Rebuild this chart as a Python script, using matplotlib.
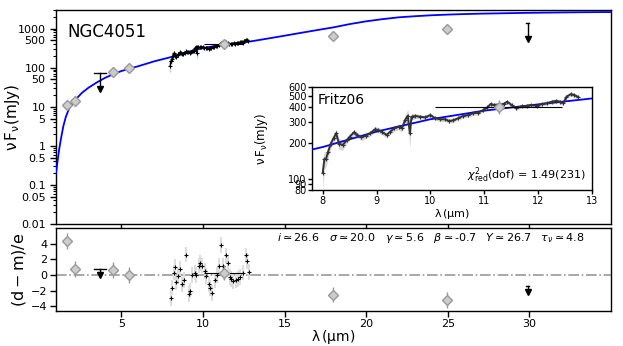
import matplotlib
matplotlib.use("Agg")
import matplotlib.pyplot as plt
from matplotlib.ticker import FixedLocator, FixedFormatter, NullFormatter, NullLocator

# model SED (blue curve)
model_wave = [1.0, 1.1, 1.2, 1.3, 1.45, 1.6, 1.8, 2.0, 2.3, 2.6, 3.0, 3.5, 4.0, 4.5,
              5.0, 5.5, 6.0, 7.0, 8.0, 9.0, 10.0, 11.0, 12.0, 13.0, 14.0, 15.0, 16.0,
              17.0, 18.0, 19.0, 20.0, 21.0, 22.0, 23.0, 24.0, 25.0, 26.0, 27.0, 28.0,
              29.0, 30.0, 31.0, 32.0, 33.0, 34.0, 35.0]
model_flux = [0.2, 0.42, 0.85, 1.5, 3.2, 5.5, 9.0, 12.0, 17, 23, 31, 42, 55, 68,
              82, 95, 108, 145, 185, 250, 318, 376, 425, 477, 560, 660, 780,
              920, 1080, 1310, 1540, 1750, 1950, 2080, 2200, 2290, 2360, 2420, 2460,
              2500, 2540, 2570, 2600, 2625, 2645, 2660]

# photometry (diamonds)
phot_wave = [1.65, 2.16, 4.47, 5.45, 11.27, 17.97, 24.97]
phot_flux = [11.3, 13.7, 77, 97, 405, 660, 1000]
phot_err = [1.0, 1.3, 9, 12, 55, 60, 110]
phot_xerr = [0, 0, 0, 0, 1.18, 0, 0]
phot_res = [4.3, 0.8, 0.6, 0.0, 0.3, -2.5, -3.2]
phot_res_err = [1.0, 1.0, 1.0, 1.0, 1.0, 1.0, 1.0]

# upper limits
ul_wave = [3.7, 29.9]
ul_flux = [74, 1400]
ul_res = [0.8, -1.4]
ul_cap = [0.35, 0.1]

# Fritz06 spectrum
spec_wave = [8.00, 8.03, 8.06, 8.10, 8.15, 8.20, 8.25, 8.30, 8.37, 8.45, 8.50, 8.58,
             8.64, 8.72, 8.80, 8.88, 8.97, 9.03, 9.11, 9.19, 9.25, 9.33, 9.41, 9.47,
             9.53, 9.58, 9.62, 9.65, 9.72, 9.81, 9.90, 10.00, 10.09, 10.18, 10.27,
             10.35, 10.43, 10.52, 10.61, 10.70, 10.80, 10.89, 10.98, 11.06, 11.12,
             11.18, 11.36, 11.43, 11.51, 11.60, 11.70, 11.79, 11.88, 11.98, 12.07,
             12.16, 12.26, 12.34, 12.41, 12.47, 12.53, 12.61, 12.67, 12.75]
spec_flux = [112, 146, 146, 169, 198, 219, 241, 198, 192, 212, 226, 246,
             234, 223, 231, 241, 261, 258, 246, 234, 249, 266, 275, 266,
             313, 340, 241, 334, 339, 334, 330, 345, 324, 318, 318,
             307, 312, 325, 339, 345, 358, 362, 380, 401, 428,
             420, 428, 448, 420, 393, 411, 411, 420, 411, 428,
             434, 448, 456, 448, 434, 493, 519, 511, 490]
spec_err = [35, 25, 20, 20, 18, 20, 20, 22, 18, 14, 13, 13,
            13, 13, 13, 13, 14, 14, 13, 13, 13, 14, 16, 18,
            30, 45, 60, 25, 16, 14, 13, 14, 13, 13, 13,
            13, 13, 13, 14, 14, 14, 14, 15, 16, 18,
            18, 16, 16, 15, 15, 15, 15, 15, 15, 15,
            15, 16, 16, 16, 16, 18, 20, 20, 20]

# residuals of the spectrum
res_wave = [8.06, 8.12, 8.20, 8.26, 8.37, 8.47, 8.61, 8.73, 8.81, 8.98, 9.14, 9.22,
            9.35, 9.49, 9.59, 9.75, 9.83, 9.96, 10.10, 10.20, 10.37, 10.45, 10.57,
            10.71, 10.86, 10.98, 11.12, 11.22, 11.32, 11.43, 11.53, 11.63, 11.73,
            11.87, 12.00, 12.14, 12.28, 12.45, 12.61, 12.69, 12.81]
res_val = [-2.9, -1.6, 0.3, 1.0, -0.95, -0.1, 0.8, -1.2, -0.65, 2.6, -2.4, -2.0,
           0.0, 0.3, 0.0, 1.2, 1.5, 1.2, 0.5, -0.1, -1.2, -1.7, -2.3,
           -0.7, 0.0, 1.2, 3.8, 1.2, 0.3, 2.5, 1.5, -0.3, -0.5,
           -0.8, -0.7, -0.5, -0.3, 0.3, 2.5, 1.8, 0.4]
res_err = [1.0] * len(res_wave)

ytick_vals = [0.01, 0.05, 0.1, 0.5, 1, 5, 10, 50, 100, 500, 1000]
ytick_labels = ["0.01", "0.05", "0.1", "0.5", "1", "5", "10", "50", "100", "500", "1000"]
xtick_vals = [5, 10, 15, 20, 25, 30]
inset_yticks = [80, 90, 100, 200, 300, 400, 500, 600]
inset_xticks = [8, 9, 10, 11, 12, 13]
res_yticks = [-4, -2, 0, 2, 4]

plt.rcParams['font.family'] = ['DejaVu Sans']
plt.rcParams['axes.linewidth'] = 1.0

fig = plt.figure(figsize=(6.23, 3.46), dpi=100)
ax = fig.add_axes([0.0899, 0.3526, 0.891, 0.6185])
axr = fig.add_axes([0.0899, 0.1012, 0.891, 0.2398])
axi = fig.add_axes([0.5008, 0.4509, 0.449, 0.2985])

dia = dict(fmt='D', mfc='#cccccc', mec='#999999', ecolor='#999999', ms=5,
           elinewidth=1.0, zorder=5)


def draw_upper_limits(a, ys, factor, log=True):
    for w, y, c in zip(ul_wave, ys, ul_cap):
        tip = y / factor if log else y - factor
        a.plot([w, w], [y, tip], color='black', lw=1.0, zorder=4)
        a.plot([w - c, w + c], [y, y], color='black', lw=1.0, zorder=4)
        a.plot(w, tip, marker='v', color='black', ms=5, zorder=4)


# ---- main panel
ax.plot(model_wave, model_flux, color='blue', lw=1.3, zorder=3)
ax.errorbar(spec_wave, spec_flux, yerr=spec_err, fmt='+', color='black',
            ecolor='#cccccc', ms=3.5, mew=0.8, elinewidth=1.0, zorder=4)
ax.plot(spec_wave, spec_flux, color='black', lw=1.0, zorder=4)
ax.errorbar(phot_wave, phot_flux, yerr=phot_err, **dia)
ax.errorbar(phot_wave, phot_flux, xerr=phot_xerr, fmt='none', ecolor='black',
            elinewidth=0.8, zorder=4)
draw_upper_limits(ax, ul_flux, 2.6)

ax.set_yscale('log')
ax.set_xlim(1, 35)
ax.set_ylim(0.01, 3000)
ax.yaxis.set_major_locator(FixedLocator(ytick_vals))
ax.yaxis.set_major_formatter(FixedFormatter(ytick_labels))
ax.yaxis.set_minor_formatter(NullFormatter())
ax.set_xticks(xtick_vals)
ax.set_xticklabels([])
ax.tick_params(which='major', direction='out', length=4, width=1, labelsize=8)
ax.tick_params(which='minor', direction='out', length=2, width=0.8)
ax.set_ylabel(r"$\mathrm{\nu\,F_{\nu}(mJy)}$", fontsize=11)
ax.yaxis.set_label_coords(-0.062, 0.5)
ax.text(0.021, 0.94, "NGC4051", transform=ax.transAxes, fontsize=12, va='top')

# ---- inset
axi.fill_between(spec_wave, [f - e for f, e in zip(spec_flux, spec_err)],
                 [f + e for f, e in zip(spec_flux, spec_err)], color='#cccccc',
                 alpha=0.8, lw=0, zorder=1)
axi.plot(model_wave, model_flux, color='blue', lw=1.3, zorder=3)
axi.plot(spec_wave, spec_flux, color='#333333', lw=1.4, marker='+', ms=3.5,
         mew=0.8, zorder=4)
axi.errorbar(phot_wave, phot_flux, yerr=phot_err, **dia)
axi.errorbar(phot_wave, phot_flux, xerr=phot_xerr, fmt='none', ecolor='black',
             elinewidth=0.8, zorder=4)
axi.set_yscale('log')
axi.set_xlim(7.8, 13)
axi.set_ylim(80, 600)
axi.yaxis.set_major_locator(FixedLocator(inset_yticks))
axi.yaxis.set_major_formatter(FixedFormatter([str(v) for v in inset_yticks]))
axi.yaxis.set_minor_locator(NullLocator())
axi.set_xticks(inset_xticks)
axi.tick_params(which='major', direction='out', length=3, width=1, labelsize=7, pad=1)
axi.set_ylabel(r"$\mathrm{\nu\,F_{\nu}(mJy)}$", fontsize=8.5)
axi.yaxis.set_label_coords(-0.15, 0.5)
axi.set_xlabel(r"$\mathrm{\lambda\,(\mu m)}$", fontsize=8, labelpad=1)
axi.text(0.02, 0.94, "Fritz06", transform=axi.transAxes, fontsize=10, va='top')
axi.text(0.98, 0.05, r"$\chi^2_{\rm red}$(dof) = 1.49(231)", transform=axi.transAxes,
         fontsize=8, ha='right', va='bottom')

# ---- residual panel
axr.axhline(0, color='#999999', ls='-.', lw=1.2, zorder=1)
axr.errorbar(res_wave, res_val, yerr=res_err, fmt='+', color='black',
             ecolor='#dddddd', ms=3.5, mew=0.8, elinewidth=1.5, zorder=3)
axr.errorbar(phot_wave, phot_res, yerr=phot_res_err, **dia)
axr.errorbar(phot_wave, phot_res, xerr=phot_xerr, fmt='none', ecolor='black',
             elinewidth=0.8, zorder=4)
draw_upper_limits(axr, ul_res, 0.8, log=False)
axr.set_xlim(1, 35)
axr.set_ylim(-4.6, 6)
axr.set_xticks(xtick_vals)
axr.set_yticks(res_yticks)
axr.tick_params(which='major', direction='out', length=4, width=1, labelsize=8, pad=2)
axr.set_ylabel(r"$\mathrm{(d-m)/e}$", fontsize=11.5)
axr.yaxis.set_label_coords(-0.05, 0.5)
axr.set_xlabel(r"$\mathrm{\lambda\,(\mu m)}$", fontsize=10)
axr.xaxis.set_label_coords(0.5, -0.2)
axr.text(0.675, 0.88, r"$i\simeq$26.6   $\sigma\simeq$20.0   $\gamma\simeq$5.6   "
         r"$\beta\simeq$-0.7   $Y\simeq$26.7   $\tau_{\nu}\simeq$4.8",
         transform=axr.transAxes, fontsize=8, ha='center', va='center')

fig.savefig("out.png", dpi=100)
